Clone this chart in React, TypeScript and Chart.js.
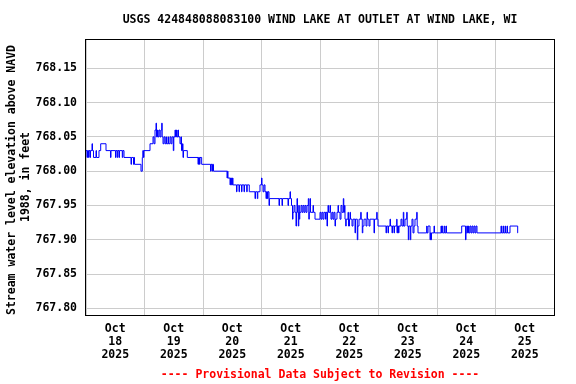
import React, { useEffect, useRef } from "react";
import { Chart, registerables } from "chart.js";

Chart.register(...registerables);

const TITLE = "USGS 424848088083100 WIND LAKE AT OUTLET AT WIND LAKE, WI";
const Y_TITLE = ["Stream water level elevation above NAVD", "1988, in feet"];
const FOOTER = "---- Provisional Data Subject to Revision ----";
const MONTH = "Oct";
const YEAR = "2025";
const DAY_LABELS = ["18", "19", "20", "21", "22", "23", "24", "25"];
const Y_TICKS = [767.8, 767.85, 767.9, 767.95, 768.0, 768.05, 768.1, 768.15];
const Y_MIN = 767.7888;
const Y_MAX = 768.1913;
const X_MAX_HOURS = 192; // Oct 18 00:00 -> Oct 26 00:00

// hours since Oct 18 2025 00:00
const HOURS = [
  0, 0.41, 0.62, 1.03, 1.23, 1.64, 1.85, 2.46, 2.67, 3.08, 4.1, 4.31, 5.33, 6.03, 8.21,
  10.05, 10.26, 12.1, 12.31, 12.84, 13.05, 13.54, 13.74, 14.89, 15.1, 15.59, 18.46, 18.67,
  19.49, 19.69, 19.9, 22.56, 23.1, 23.3, 23.59, 23.79,
  26.26, 27.49, 27.9, 28.31, 28.72, 28.92, 29.33, 29.54, 29.95, 30.36, 30.77, 31.06, 31.26,
  31.59, 32.0, 32.41, 32.82, 33.03, 33.64, 33.85, 34.46, 34.87, 35.28, 35.82, 36.02, 36.51,
  36.72, 37.13, 37.33, 37.74, 37.95, 38.56, 38.97, 39.18, 39.59, 39.79, 40.0, 41.56, 45.95,
  46.15, 46.56, 46.77, 47.46,
  51.08, 51.28, 51.69, 51.9, 52.31, 57.85, 58.05, 58.26, 59.08, 59.28, 59.69, 60.1, 60.31,
  61.74, 61.95, 62.77, 62.97, 63.79, 64.0, 64.82, 65.03, 65.93, 66.13, 66.99, 69.33, 69.54,
  70.28, 70.48, 71.38, 72.0, 72.21, 72.62, 73.03, 73.44, 73.85, 74.05, 74.46, 74.67, 75.08,
  75.28,
  79.18, 79.38, 80.41, 80.62, 82.87, 83.08, 83.69, 83.9, 84.31, 84.72, 84.92, 85.33, 85.74,
  86.15, 86.36, 86.56, 86.77, 87.1, 87.3, 87.51, 87.71, 88.21, 88.62, 89.03, 89.44, 89.85,
  90.26, 90.67, 91.2, 91.41, 91.61, 91.9, 92.1, 93.13, 93.33, 93.95,
  96.0, 96.41, 96.82, 97.23, 97.64, 98.26, 98.46, 98.87, 99.08, 99.28, 99.49, 100.1, 100.31,
  100.51, 100.92, 101.33, 101.74, 102.15, 102.36, 102.97, 103.38, 103.59, 104.21, 104.62,
  105.03, 105.56, 105.76, 106.05, 106.26, 106.54, 106.75, 107.49, 107.69, 108.1, 108.31,
  108.51, 109.13, 109.54, 110.36, 110.56, 111.3, 111.51, 112.0, 112.7, 112.9, 113.35, 113.56,
  114.05, 114.87, 115.28, 115.49, 116.1, 116.51, 118.15, 118.36, 119.26, 119.47, 119.79,
  123.08, 123.28, 123.9, 124.1, 124.72, 124.92, 125.54, 125.74, 126.36, 126.56, 127.47,
  127.59, 127.79, 128.21, 128.41, 129.23, 129.64, 130.17, 130.38, 130.87, 131.57, 131.77,
  132.23, 132.43, 133.05, 133.25, 133.74, 134.15, 134.56, 134.97, 135.67, 135.87, 136.21,
  139.77, 139.9, 140.31, 141.13, 141.33, 141.54, 141.74, 142.77, 142.97,
  145.64, 145.85, 146.17, 146.38, 147.0, 147.2, 147.69, 147.9, 154.13, 155.69, 155.9, 156.19,
  156.51, 156.92, 157.13, 157.54, 157.95, 158.36, 158.77, 159.18, 159.59, 160.0, 160.41,
  170.26, 170.46, 171.08, 171.28, 171.9, 172.1, 172.72, 172.92, 173.95, 177.1, 177.23,
];

// stream water level elevation, ft NAVD88
const ELEV = [
  768.03, 768.02, 768.03, 768.02, 768.03, 768.02, 768.03, 768.04, 768.03, 768.02, 768.03, 768.02, 768.03, 768.04, 768.03,
  768.02, 768.03, 768.02, 768.03, 768.02, 768.03, 768.02, 768.03, 768.02, 768.03, 768.02, 768.01, 768.02,
  768.01, 768.02, 768.01, 768.0, 768.02, 768.03, 768.02, 768.03,
  768.04, 768.05, 768.04, 768.06, 768.07, 768.05, 768.06, 768.05, 768.06, 768.05, 768.06, 768.07, 768.05,
  768.04, 768.05, 768.04, 768.05, 768.04, 768.05, 768.04, 768.05, 768.04, 768.05, 768.03, 768.05, 768.06,
  768.05, 768.06, 768.05, 768.06, 768.05, 768.04, 768.05, 768.03, 768.04, 768.02, 768.03, 768.02, 768.01,
  768.02, 768.01, 768.02, 768.01,
  768.0, 768.01, 768.0, 768.01, 768.0, 767.99, 768.0, 767.99, 767.98, 767.99, 767.98, 767.99, 767.98,
  767.97, 767.98, 767.97, 767.98, 767.97, 767.98, 767.97, 767.98, 767.97, 767.98, 767.97, 767.96, 767.97,
  767.96, 767.97, 767.98, 767.99, 767.98, 767.97, 767.98, 767.97, 767.96, 767.97, 767.96, 767.97, 767.95,
  767.96,
  767.95, 767.96, 767.95, 767.96, 767.95, 767.96, 767.97, 767.96, 767.95, 767.93, 767.94, 767.95, 767.94,
  767.92, 767.94, 767.96, 767.94, 767.92, 767.95, 767.93, 767.94, 767.95, 767.94, 767.95, 767.94, 767.95,
  767.94, 767.95, 767.96, 767.93, 767.94, 767.96, 767.94, 767.95, 767.94, 767.93,
  767.94, 767.93, 767.94, 767.93, 767.94, 767.93, 767.94, 767.92, 767.94, 767.95, 767.94, 767.95, 767.94,
  767.93, 767.94, 767.93, 767.94, 767.92, 767.93, 767.94, 767.95, 767.94, 767.93, 767.95,
  767.94, 767.96, 767.94, 767.95, 767.93, 767.92, 767.93, 767.94, 767.92, 767.93, 767.94,
  767.93, 767.92, 767.93, 767.91, 767.93, 767.9, 767.92, 767.93, 767.94, 767.93, 767.91, 767.92,
  767.93, 767.92, 767.94, 767.93, 767.92, 767.93, 767.91, 767.93, 767.94, 767.93, 767.92,
  767.91, 767.92, 767.91, 767.92, 767.93, 767.92, 767.91, 767.92, 767.91, 767.92, 767.93,
  767.91, 767.92, 767.91, 767.92, 767.93, 767.92, 767.94, 767.92, 767.93, 767.94, 767.92,
  767.9, 767.92, 767.9, 767.92, 767.93, 767.91, 767.92, 767.93, 767.94, 767.92, 767.91,
  767.92, 767.91, 767.92, 767.9, 767.91, 767.9, 767.91, 767.92, 767.91,
  767.92, 767.91, 767.92, 767.91, 767.92, 767.91, 767.92, 767.91, 767.92, 767.9, 767.91, 767.92,
  767.91, 767.92, 767.91, 767.92, 767.91, 767.92, 767.91, 767.92, 767.91, 767.92, 767.91,
  767.92, 767.91, 767.92, 767.91, 767.92, 767.91, 767.92, 767.91, 767.92, 767.91, 767.91,
];

const FONT = '"DejaVu Sans Mono", "Liberation Mono", monospace';
const FONT_SIZE = 11.5;

export default function App() {
  const ref = useRef<HTMLCanvasElement | null>(null);

  useEffect(() => {
    const canvas = ref.current;
    if (!canvas) return;

    const decor = {
      id: "usgsDecor",
      beforeDraw(chart: any) {
        const c = chart.ctx;
        c.save();
        c.fillStyle = "#ffffff";
        c.fillRect(0, 0, chart.width, chart.height);
        c.restore();
      },
      afterDraw(chart: any) {
        const c = chart.ctx;
        const a = chart.chartArea;
        c.save();
        // frame
        c.strokeStyle = "#000000";
        c.lineWidth = 1;
        c.strokeRect(a.left - 0.5, a.top - 0.5, a.right - a.left + 1, a.bottom - a.top);
        const cx = (a.left + a.right) / 2;
        c.font = `bold ${FONT_SIZE}px ${FONT}`;
        c.textAlign = "center";
        c.textBaseline = "middle";
        c.fillStyle = "#000000";
        c.fillText(TITLE, cx, 20);
        // y title
        const cy = (a.top + a.bottom) / 2 + 2;
        c.save();
        c.translate(12, cy);
        c.rotate(-Math.PI / 2);
        c.fillText(Y_TITLE[0], 0, 0);
        c.restore();
        c.save();
        c.translate(26, cy - 3);
        c.rotate(-Math.PI / 2);
        c.fillText(Y_TITLE[1], 0, 0);
        c.restore();
        // footer
        c.fillStyle = "#ff0000";
        c.fillText(FOOTER, cx, 375);
        c.restore();
      },
    };

    const chart = new Chart(canvas, {
      type: "line",
      data: {
        datasets: [
          {
            data: HOURS.map((h, i) => ({ x: h, y: ELEV[i] })),
            borderColor: "#0000ff",
            borderWidth: 1,
            pointRadius: 0,
            stepped: true,
            fill: false,
          },
        ],
      },
      options: {
        responsive: false,
        animation: false,
        devicePixelRatio: 1,
        layout: { padding: { top: 40, right: 22, left: 0, bottom: 0 } },
        plugins: {
          legend: { display: false },
          tooltip: { enabled: false },
          title: { display: false },
        },
        scales: {
          x: {
            type: "linear",
            min: 0,
            max: X_MAX_HOURS,
            afterBuildTicks: (scale: any) => {
              const t = [];
              for (let v = 0; v <= X_MAX_HOURS; v += 12) t.push({ value: v });
              scale.ticks = t;
            },
            afterFit: (scale: any) => {
              scale.height = 68;
            },
            border: { display: false },
            grid: {
              color: (ctx: any) =>
                ctx.tick && ctx.tick.value % 24 === 0 ? "#cccccc" : "rgba(0,0,0,0)",
              drawTicks: false,
              lineWidth: 1,
            },
            ticks: {
              autoSkip: false,
              maxRotation: 0,
              minRotation: 0,
              padding: 7,
              color: "#000000",
              font: { family: FONT, size: FONT_SIZE, weight: "bold", lineHeight: 1.13 },
              callback: (v: any) => {
                const n = Number(v);
                if (n % 24 === 12) return [MONTH, DAY_LABELS[(n - 12) / 24], YEAR];
                return "";
              },
            },
          },
          y: {
            type: "linear",
            min: Y_MIN,
            max: Y_MAX,
            afterBuildTicks: (scale: any) => {
              scale.ticks = Y_TICKS.map((v) => ({ value: v }));
            },
            afterFit: (scale: any) => {
              scale.width = 86;
            },
            border: { display: false },
            grid: { color: "#cccccc", drawTicks: false, lineWidth: 1 },
            ticks: {
              padding: 9,
              color: "#000000",
              font: { family: FONT, size: FONT_SIZE, weight: "bold" },
              callback: (v: any) => Number(v).toFixed(2),
            },
          },
        },
      },
      plugins: [decor],
    });

    return () => chart.destroy();
  }, []);

  return (
    <div style={{ position: "fixed", left: 0, top: 0, width: 576, height: 384, background: "#fff" }}>
      <canvas ref={ref} width={576} height={384} style={{ display: "block", width: 576, height: 384 }} />
    </div>
  );
}
